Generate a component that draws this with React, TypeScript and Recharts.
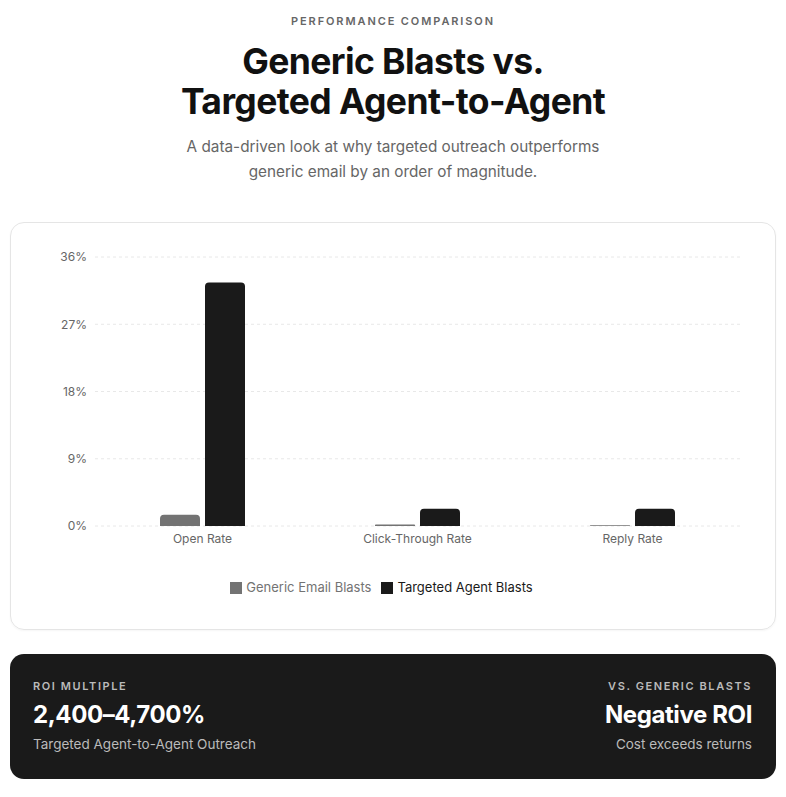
import React from "react";
import {
  BarChart,
  Bar,
  XAxis,
  YAxis,
  CartesianGrid,
  Legend,
} from "recharts";

const metrics = ["Open Rate", "Click-Through Rate", "Reply Rate"];
const genericRates = [1.5, 0.2, 0.1];
const targetedRates = [32.6, 2.3, 2.3];
const yTicks = [0, 9, 18, 27, 36];

const data = metrics.map((metric, i) => ({
  metric,
  generic: genericRates[i],
  targeted: targetedRates[i],
}));

const FONT = "Inter, 'Noto Sans', sans-serif";

const App: React.FC = () => {
  return (
    <div style={{ width: 770, fontFamily: FONT, color: "#111" }}>
      {/* Header */}
      <div style={{ textAlign: "center", paddingTop: 6 }}>
        <div
          style={{
            fontSize: 11,
            fontWeight: 600,
            letterSpacing: 1.9,
            color: "#666",
            lineHeight: "14px",
          }}
        >
          PERFORMANCE COMPARISON
        </div>
        <div
          style={{
            fontSize: 35.5,
            fontWeight: 700,
            letterSpacing: -0.6,
            lineHeight: "40px",
            marginTop: 14,
          }}
        >
          Generic Blasts vs.
          <br />
          Targeted Agent-to-Agent
        </div>
        <div
          style={{
            fontSize: 15.3,
            color: "#666",
            lineHeight: "25px",
            marginTop: 12,
          }}
        >
          A data-driven look at why targeted outreach outperforms
          <br />
          generic email by an order of magnitude.
        </div>
      </div>

      {/* Chart card */}
      <div
        style={{
          marginTop: 38,
          marginLeft: 2,
          width: 764,
          height: 382,
          border: "1px solid #e5e5e5",
          borderRadius: 14,
          boxSizing: "content-box",
          paddingTop: 24,
          boxShadow: "0 1px 2px rgba(0,0,0,0.04)",
        }}
      >
        <BarChart
          width={764}
          height={360}
          data={data}
          margin={{ top: 10, right: 35, left: 22, bottom: 12 }}
          barGap={5}
          barSize={40}
          style={{ fontFamily: FONT }}
        >
          <CartesianGrid
            vertical={false}
            stroke="#e8e8e8"
            strokeDasharray="3 3"
          />
          <XAxis
            dataKey="metric"
            axisLine={false}
            tickLine={false}
            tick={{ fontSize: 12, fill: "#666" }}
          />
          <YAxis
            domain={[0, 36]}
            ticks={yTicks}
            tickFormatter={(v: number) => `${v}%`}
            axisLine={false}
            tickLine={false}
            width={62}
            tick={{ fontSize: 12, fill: "#666" }}
          />
          <Legend
            verticalAlign="bottom"
            iconType="square"
            iconSize={12}
            wrapperStyle={{ fontSize: 13, paddingTop: 23 }}
          />
          <Bar
            dataKey="generic"
            name="Generic Email Blasts"
            fill="#737373"
            radius={[4, 4, 0, 0]}
            isAnimationActive={false}
          />
          <Bar
            dataKey="targeted"
            name="Targeted Agent Blasts"
            fill="#1a1a1a"
            radius={[4, 4, 0, 0]}
            isAnimationActive={false}
          />
        </BarChart>
      </div>

      {/* ROI panel */}
      <div
        style={{
          marginTop: 24,
          marginLeft: 2,
          width: 766,
          height: 125,
          background: "#1a1a1a",
          borderRadius: 14,
          boxSizing: "border-box",
          padding: "25px 24px 0 23px",
          display: "flex",
          justifyContent: "space-between",
          color: "#fff",
        }}
      >
        <div>
          <div style={{ fontSize: 11, fontWeight: 600, letterSpacing: 1.6, color: "#bbb", lineHeight: "14px" }}>
            ROI MULTIPLE
          </div>
          <div style={{ fontSize: 24, fontWeight: 700, letterSpacing: -0.4, lineHeight: "30px", marginTop: 7 }}>
            2,400–4,700%
          </div>
          <div style={{ fontSize: 13.5, color: "#bbb", lineHeight: "18px", marginTop: 5 }}>
            Targeted Agent-to-Agent Outreach
          </div>
        </div>
        <div style={{ textAlign: "right" }}>
          <div style={{ fontSize: 11, fontWeight: 600, letterSpacing: 1.6, color: "#bbb", lineHeight: "14px" }}>
            VS. GENERIC BLASTS
          </div>
          <div style={{ fontSize: 24, fontWeight: 700, letterSpacing: -0.4, lineHeight: "30px", marginTop: 7 }}>
            Negative ROI
          </div>
          <div style={{ fontSize: 13.5, color: "#bbb", lineHeight: "18px", marginTop: 5 }}>
            Cost exceeds returns
          </div>
        </div>
      </div>
    </div>
  );
};

export default App;
